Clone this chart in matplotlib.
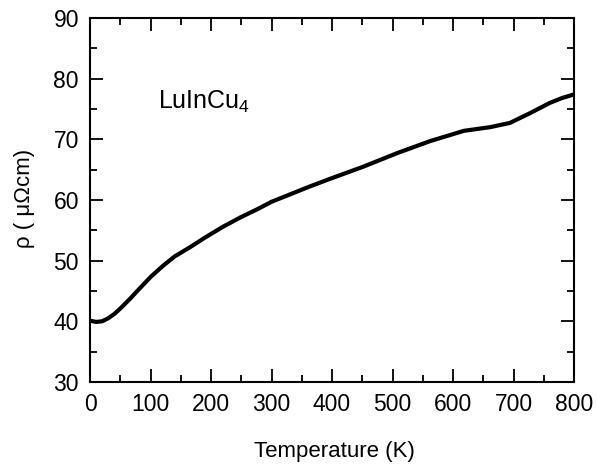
import numpy as np
import matplotlib.pyplot as plt
from matplotlib.ticker import MultipleLocator

plt.rcParams['font.family'] = ['Liberation Sans', 'DejaVu Sans']
plt.rcParams['mathtext.default'] = 'regular'

# temperatura (K) e resistividade (micro-ohm cm)
temperatura = [0, 10, 20, 30, 40, 50, 65, 80, 100, 120, 140, 165, 190, 220,
               250, 275, 300, 330, 360, 397, 452, 507, 562, 618, 661, 694,
               727, 760, 780, 800]
rho = [40.1, 39.9, 40.0, 40.5, 41.2, 42.1, 43.6, 45.2, 47.3, 49.1, 50.7,
       52.2, 53.8, 55.6, 57.2, 58.4, 59.7, 60.9, 62.1, 63.5, 65.5, 67.7,
       69.7, 71.4, 72.0, 72.7, 74.3, 76.0, 76.8, 77.4]

fig = plt.figure(figsize=(5.97, 4.66), dpi=100)
ax = fig.add_axes([0.1508, 0.1803, 0.8107, 0.7811])

ax.plot(temperatura, rho, color='black', linewidth=3)

ax.set_xlim(0, 800)
ax.set_ylim(30, 90)
ax.xaxis.set_major_locator(MultipleLocator(100))
ax.xaxis.set_minor_locator(MultipleLocator(50))
ax.yaxis.set_major_locator(MultipleLocator(10))
ax.yaxis.set_minor_locator(MultipleLocator(5))

ax.tick_params(which='both', direction='in', top=True, right=True,
               width=1.3, labelsize=16.5, pad=8)
ax.tick_params(which='major', length=9.5)
ax.tick_params(which='minor', length=5)
for s in ax.spines.values():
    s.set_linewidth(1.5)

ax.set_xlabel('Temperature (K)', fontsize=16)
ax.set_ylabel('ρ ( μΩcm)', fontsize=16)
ax.xaxis.set_label_coords(0.504, -0.162)
ax.yaxis.set_label_coords(-0.113, 0.505)

ax.text(112, 75.1, 'LuInCu$_4$', fontsize=18, va='baseline')

plt.savefig('out.png', dpi=100)
